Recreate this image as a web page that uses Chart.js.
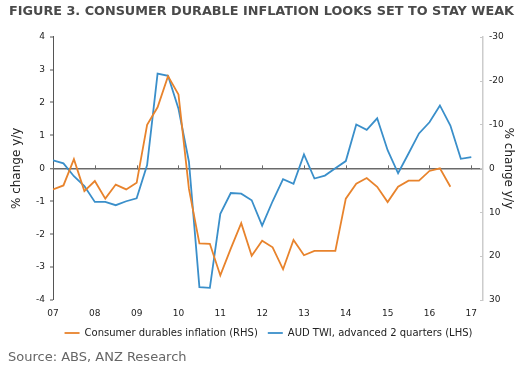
<!DOCTYPE html>
<html>
<head>
<meta charset="utf-8">
<script src="https://cdn.jsdelivr.net/npm/chart.js@4.4.1/dist/chart.umd.min.js"></script>
<style>
  html, body { margin: 0; padding: 0; background: #ffffff; }
  #wrap { position: relative; width: 523px; height: 366px; overflow: hidden; }
  #c { position: absolute; left: 0; top: 0; }
  #source { position: absolute; left: 8px; top: 349px; font: 13px "DejaVu Sans", sans-serif; color: #666666; white-space: nowrap; }
</style>
</head>
<body>
<div id="wrap">
  <canvas id="c" width="523" height="366"></canvas>
  <div id="source">Source: ABS, ANZ Research</div>
</div>
<script>
// ---- Data ----
const titleText = "FIGURE 3. CONSUMER DURABLE INFLATION LOOKS SET TO STAY WEAK";

const twiQuarters = [
  2007.00, 2007.25, 2007.50, 2007.75, 2008.00, 2008.25, 2008.50, 2008.75,
  2009.00, 2009.25, 2009.50, 2009.75, 2010.00, 2010.25, 2010.50, 2010.75,
  2011.00, 2011.25, 2011.50, 2011.75, 2012.00, 2012.25, 2012.50, 2012.75,
  2013.00, 2013.25, 2013.50, 2013.75, 2014.00, 2014.25, 2014.50, 2014.75,
  2015.00, 2015.25, 2015.50, 2015.75, 2016.00, 2016.25, 2016.50, 2016.75,
  2017.00
];
// AUD TWI, advanced 2 quarters (LHS)
const twiValues = [
  0.24, 0.15, -0.24, -0.54, -1.02, -1.02, -1.12, -1.00,
  -0.91, 0.10, 2.88, 2.81, 1.81, 0.20, -3.61, -3.63,
  -1.38, -0.75, -0.77, -0.97, -1.74, -1.00, -0.33, -0.47,
  0.42, -0.31, -0.22, 0.00, 0.22, 1.33, 1.17, 1.52,
  0.55, -0.15, 0.45, 1.06, 1.40, 1.91, 1.30, 0.29,
  0.34
];

const durQuarters = [
  2007.00, 2007.25, 2007.50, 2007.75, 2008.00, 2008.25, 2008.50, 2008.75,
  2009.00, 2009.25, 2009.50, 2009.75, 2010.00, 2010.25, 2010.50, 2010.75,
  2011.00, 2011.25, 2011.50, 2011.75, 2012.00, 2012.25, 2012.50, 2012.75,
  2013.00, 2013.25, 2013.50, 2013.75, 2014.00, 2014.25, 2014.50, 2014.75,
  2015.00, 2015.25, 2015.50, 2015.75, 2016.00, 2016.25, 2016.50
];
// Consumer durables inflation (RHS, inverted axis)
const durValues = [
  4.8, 3.9, -2.1, 5.2, 2.9, 6.9, 3.7, 4.8,
  3.3, -9.9, -13.9, -21.0, -16.8, 4.7, 17.1, 17.2,
  24.4, 18.3, 12.5, 19.9, 16.5, 18.0, 23.0, 16.3,
  19.8, 18.8, 18.8, 18.8, 6.9, 3.5, 2.2, 4.2,
  7.7, 4.2, 2.8, 2.8, 0.6, 0.0, 4.2
];

const seriesNames = ["Consumer durables inflation (RHS)", "AUD TWI, advanced 2 quarters (LHS)"];
const axisTitle = "% change y/y";
const leftTicks = [-4, -3, -2, -1, 0, 1, 2, 3, 4];
const rightTicks = [-30, -20, -10, 0, 10, 20, 30];
const yearTicks = [2007, 2008, 2009, 2010, 2011, 2012, 2013, 2014, 2015, 2016, 2017];

// ---- Chart ----
const FONT = '"DejaVu Sans", Verdana, sans-serif';
const ORANGE = '#e8832c';
const BLUE = '#3a8fca';

const axisMarks = {
  id: 'axisMarks',
  afterLayout(chart) {
    // nudge the legend to sit where the reference has it
    const lg = chart.legend;
    if (lg) { lg.left += 7; lg.right += 7; lg.top -= 2; lg.bottom -= 2; }
  },
  beforeDatasetsDraw(chart) {
    const x = chart.scales.x, y = chart.scales.y, y2 = chart.scales.y2;
    const y0 = y.getPixelForValue(0);
    const ctx = chart.ctx;
    ctx.save();
    ctx.strokeStyle = '#6a6a6a';
    ctx.lineWidth = 1;
    yearTicks.forEach(v => {
      const px = Math.round(x.getPixelForValue(v)) + 0.5;
      ctx.beginPath();
      ctx.moveTo(px, y0 - 3);
      ctx.lineTo(px, y0 + 1);
      ctx.stroke();
    });
    // inward tick marks on the right axis
    ctx.strokeStyle = '#c8c8c8';
    const xr = y2.left;
    rightTicks.forEach(v => {
      const py = Math.round(y2.getPixelForValue(v)) + 0.5;
      ctx.beginPath();
      ctx.moveTo(xr - 3, py);
      ctx.lineTo(xr, py);
      ctx.stroke();
    });
    ctx.restore();
  }
};

new Chart(document.getElementById('c'), {
  type: 'line',
  data: {
    datasets: [
      {
        label: seriesNames[0],
        data: durValues.map((v, i) => ({ x: durQuarters[i], y: v })),
        yAxisID: 'y2',
        borderColor: ORANGE,
        backgroundColor: ORANGE,
        borderWidth: 1.8,
        pointRadius: 0,
        tension: 0
      },
      {
        label: seriesNames[1],
        data: twiValues.map((v, i) => ({ x: twiQuarters[i], y: v })),
        yAxisID: 'y',
        borderColor: BLUE,
        backgroundColor: BLUE,
        borderWidth: 1.8,
        pointRadius: 0,
        tension: 0
      }
    ]
  },
  options: {
    responsive: false,
    animation: false,
    devicePixelRatio: 1,
    layout: { padding: { left: 0, right: 0, top: 0, bottom: 16 } },
    plugins: {
      title: {
        display: true,
        text: titleText,
        color: '#4a4a4a',
        font: { family: FONT, size: 12.8, weight: 'bold' },
        padding: { top: 4, bottom: 17.3 }
      },
      legend: {
        position: 'bottom',
        labels: {
          color: '#222222',
          font: { family: FONT, size: 10 },
          usePointStyle: true,
          pointStyle: 'line',
          pointStyleWidth: 15,
          boxHeight: 10,
          padding: 10
        }
      },
      tooltip: { enabled: false }
    },
    scales: {
      x: {
        type: 'linear',
        min: 2007,
        max: 2017.28,
        afterBuildTicks: (s) => { s.ticks = yearTicks.map(v => ({ value: v })); },
        afterFit: (s) => { s.height = 20; },
        grid: { display: false, drawTicks: false },
        border: { display: false },
        ticks: {
          color: '#222222',
          font: { family: FONT, size: 9 },
          padding: 8,
          maxRotation: 0,
          autoSkip: false,
          callback: (v) => String(v).slice(2)
        }
      },
      y: {
        position: 'left',
        min: -4,
        max: 4,
        afterBuildTicks: (s) => { s.ticks = leftTicks.map(v => ({ value: v })); },
        afterFit: (s) => { s.width = 53; },
        grid: {
          drawOnChartArea: true,
          color: (c) => (c.tick && c.tick.value === 0) ? '#6a6a6a' : 'rgba(0,0,0,0)',
          lineWidth: (c) => (c.tick && c.tick.value === 0) ? 1.5 : 0,
          tickColor: '#555555',
          tickWidth: 1,
          tickLength: 3,
          drawTicks: true
        },
        border: { display: true, color: '#555555', width: 1 },
        ticks: {
          color: '#222222',
          font: { family: FONT, size: 9 },
          padding: 5
        },
        title: {
          display: true,
          text: axisTitle,
          color: '#222222',
          font: { family: FONT, size: 12 },
          padding: { top: 10, bottom: 0 }
        }
      },
      y2: {
        position: 'right',
        reverse: true,
        min: -30,
        max: 30,
        afterBuildTicks: (s) => { s.ticks = rightTicks.map(v => ({ value: v })); },
        afterFit: (s) => { s.width = 40; },
        grid: {
          drawOnChartArea: false,
          drawTicks: false
        },
        border: { display: true, color: '#cccccc', width: 1.5 },
        ticks: {
          color: '#222222',
          font: { family: FONT, size: 9 },
          padding: 6
        },
        title: {
          display: true,
          text: axisTitle,
          color: '#222222',
          font: { family: FONT, size: 12 },
          padding: { top: 7.5, bottom: 0 }
        }
      }
    }
  },
  plugins: [axisMarks]
});
</script>
</body>
</html>
